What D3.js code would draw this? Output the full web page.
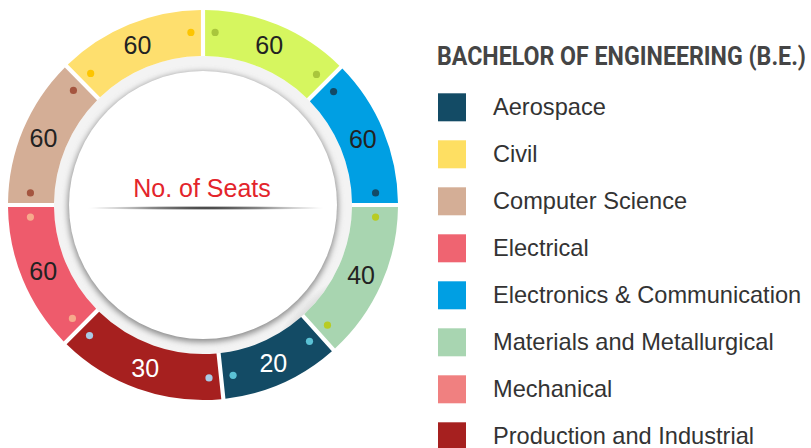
<!DOCTYPE html>
<html>
<head>
<meta charset="utf-8">
<script src="https://cdn.jsdelivr.net/npm/d3@7"></script>
<style>
	body{margin:0;background:#fff;}
	svg{display:block;}
</style>
</head>
<body>
<div id="seats_chart"></div>
<script>
// legend entries
const legendNames = ["Aerospace","Civil","Computer Science","Electrical","Electronics & Communication","Materials and Metallurgical","Mechanical","Production and Industrial"]
const legendColors = ["#134b65","#fedf62","#d4ae96","#ef6471","#009fe3","#a8d5b1","#f08080","#a6201f"]

// ring segments, clockwise from the top
const ringValues = [60,60,40,20,30,60,60,60]
const ringShares = [45,45,48,36,51,45,45.5,44.5]
const ringColors = ["url(#limeGrad)","#009fe3","#a8d5b0","#134b65","#a6201f","url(#pinkGrad)","#d4ae96","#fedf6e"]
const ringDotColors = ["#a9c63c","#134a66","#b8cc22","#5bc2d6","#a9cbe6","#f7aa8c","#a4553f","#fdc500"]
const ringTextColors = ["#222","#222","#222","#fff","#fff","#222","#222","#222"]

const titleText = "BACHELOR OF ENGINEERING (B.E.)"
const centerText = "No. of Seats"

drawChart()

function drawChart(){
	let width = 811
	let height = 448
	let cx = 203, cy = 205
	let outerR = 195, innerR = 149

	const svg = d3.select("#seats_chart")
		.append("svg")
		.attr("width", width)
		.attr("height", height)

	var defs = svg.append("defs")

	var lime = defs.append("linearGradient").attr("id","limeGrad")
		.attr("gradientUnits","userSpaceOnUse")
		.attr("x1",cx).attr("y1",cy-outerR).attr("x2",cx+outerR*0.75).attr("y2",cy-outerR*0.5)
	lime.append("stop").attr("offset","0%").attr("stop-color","#d6f65f")
	lime.append("stop").attr("offset","100%").attr("stop-color","#b6df48")

	var pink = defs.append("linearGradient").attr("id","pinkGrad")
		.attr("gradientUnits","userSpaceOnUse")
		.attr("x1",cx-outerR*0.9).attr("y1",cy+4).attr("x2",cx-outerR*0.7).attr("y2",cy+outerR*0.68)
	pink.append("stop").attr("offset","0%").attr("stop-color","#ee5b6c")
	pink.append("stop").attr("offset","100%").attr("stop-color","#fe9999")

	var ring = defs.append("radialGradient").attr("id","ringGrad")
		.attr("gradientUnits","userSpaceOnUse")
		.attr("cx",cx).attr("cy",cy).attr("r",innerR)
	ring.append("stop").attr("offset","86%").attr("stop-color","#a9a9a9")
	ring.append("stop").attr("offset","93%").attr("stop-color","#d9d9d9")
	ring.append("stop").attr("offset","100%").attr("stop-color","#f3f3f3")

	var shadow = defs.append("filter").attr("id","discShadow")
		.attr("x","-20%").attr("y","-20%").attr("width","140%").attr("height","140%")
	shadow.append("feGaussianBlur").attr("stdDeviation",3)

	var line = defs.append("radialGradient").attr("id","lineGrad")
	line.append("stop").attr("offset","0%").attr("stop-color","#111").attr("stop-opacity",1)
	line.append("stop").attr("offset","50%").attr("stop-color","#555").attr("stop-opacity",0.7)
	line.append("stop").attr("offset","100%").attr("stop-color","#999").attr("stop-opacity",0)

	const data = ringValues.map((v,i)=>({value:v, share:ringShares[i], color:ringColors[i], dot:ringDotColors[i], text:ringTextColors[i]}))

	let pie = d3.pie().sort(null).value(d=>d.share)
	let arc = d3.arc().innerRadius(innerR).outerRadius(outerR).padAngle(0.017)
	let labelArc = d3.arc().innerRadius(173).outerRadius(173)

	const g = svg.append("g").attr("transform","translate("+cx+","+cy+")")

	// grey band and white disc in the middle
	g.append("circle").attr("r",innerR).attr("fill","url(#ringGrad)")
	g.append("circle").attr("r",135).attr("cy",2).attr("fill","#888").attr("filter","url(#discShadow)")
	g.append("circle").attr("r",134).attr("fill","#fff")

	var slices = g.selectAll(".slice")
		.data(pie(data))
		.enter().append("g")
		.attr("class","slice")

	slices.append("path")
		.attr("d",arc)
		.attr("fill",d=>d.data.color)

	let dotOffset = 0.07
	slices.each(function(d){
		let angles = [d.startAngle+dotOffset, d.endAngle-dotOffset]
		d3.select(this).selectAll("circle")
			.data(angles)
			.enter().append("circle")
			.attr("cx",a=>173*Math.sin(a))
			.attr("cy",a=>-173*Math.cos(a))
			.attr("r",3.6)
			.attr("fill",d.data.dot)
	})

	slices.append("text")
		.attr("transform",d=>"translate("+labelArc.centroid(d)+")")
		.attr("text-anchor","middle")
		.attr("dy","0.36em")
		.attr("font-family","'Liberation Sans', Arial, sans-serif")
		.attr("font-size",25)
		.attr("fill",d=>d.data.text)
		.text(d=>d.data.value)

	g.append("text")
		.attr("x",-1).attr("y",-8)
		.attr("text-anchor","middle")
		.attr("font-family","'Liberation Sans', Arial, sans-serif")
		.attr("font-size",25)
		.attr("fill","#e3242b")
		.text(centerText)

	g.append("ellipse")
		.attr("cx",3).attr("cy",3)
		.attr("rx",121).attr("ry",2.2)
		.attr("fill","url(#lineGrad)")

	// legend
	svg.append("text")
		.attr("x",437).attr("y",64.5)
		.attr("font-family","Roboto, sans-serif")
		.attr("font-weight","bold")
		.attr("font-size",25)
		.attr("fill","#454545")
		.attr("textLength",369)
		.attr("lengthAdjust","spacingAndGlyphs")
		.text(titleText)

	let y = d3.scaleLinear().domain([0,1]).range([93.3,140.3])

	var items = svg.selectAll(".legend-item")
		.data(legendNames)
		.enter().append("g")
		.attr("class","legend-item")
		.attr("transform",(d,i)=>"translate(438,"+y(i)+")")

	items.append("rect")
		.attr("width",28).attr("height",28)
		.attr("fill",(d,i)=>legendColors[i])

	items.append("text")
		.attr("x",55).attr("y",14)
		.attr("dy","0.32em")
		.attr("font-family","'Liberation Sans', Arial, sans-serif")
		.attr("font-size",23.6)
		.attr("fill","#333")
		.text(d=>d)
}
</script>
</body>
</html>
